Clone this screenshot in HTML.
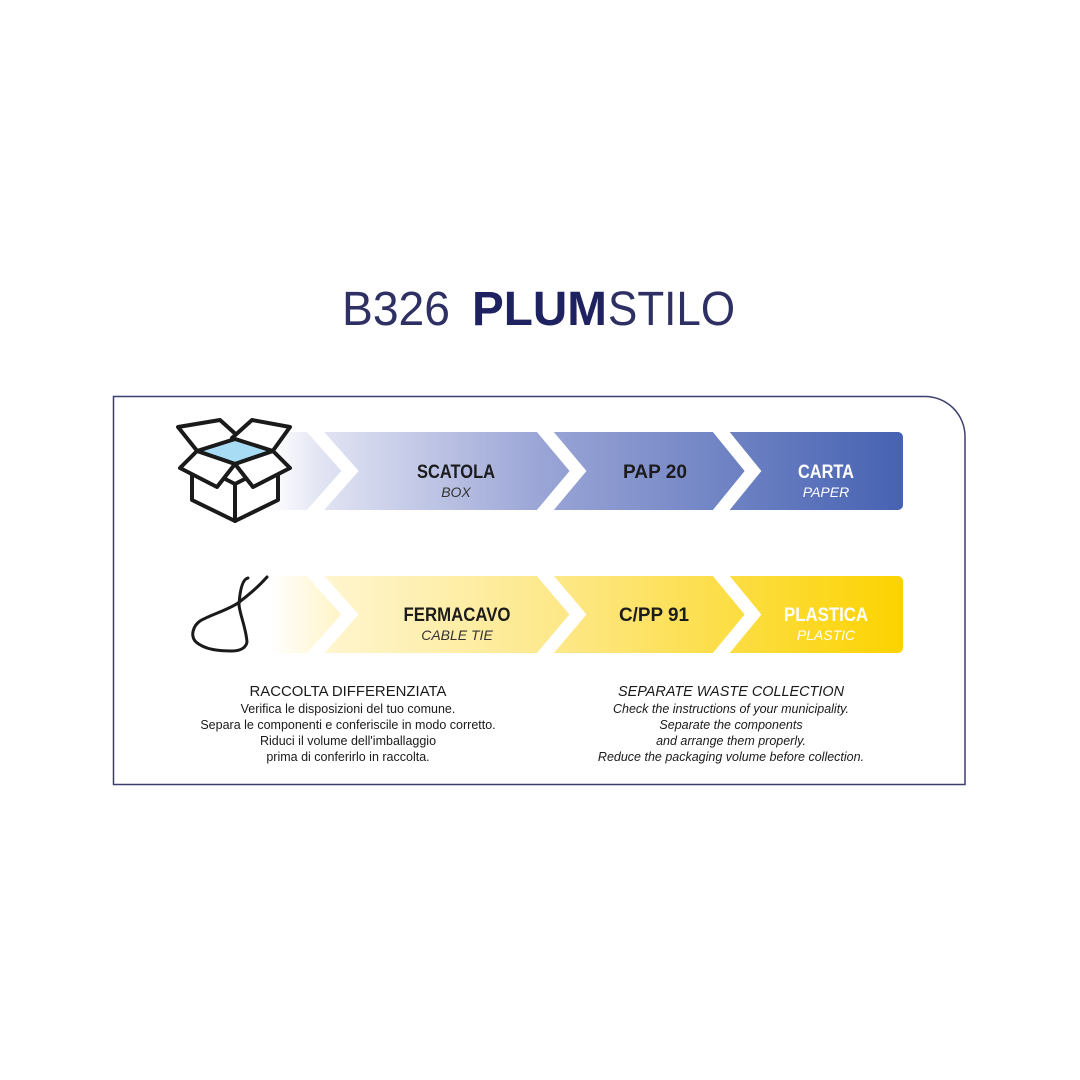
<!DOCTYPE html>
<html><head><meta charset="utf-8"><style>
html,body{margin:0;padding:0;background:#fff;}
svg{display:block}
</style></head><body>
<svg width="1080" height="1080" viewBox="0 0 1080 1080" xmlns="http://www.w3.org/2000/svg">
<defs>
<linearGradient id="gb" x1="270" x2="903" y1="0" y2="0" gradientUnits="userSpaceOnUse">
<stop offset="0" stop-color="#ffffff"/>
<stop offset="0.08" stop-color="#e2e4f3"/>
<stop offset="0.43" stop-color="#9aa5d6"/>
<stop offset="1" stop-color="#4662b2"/>
</linearGradient>
<linearGradient id="gy" x1="270" x2="903" y1="0" y2="0" gradientUnits="userSpaceOnUse">
<stop offset="0" stop-color="#ffffff"/>
<stop offset="0.1" stop-color="#fff5cc"/>
<stop offset="0.45" stop-color="#fde88a"/>
<stop offset="1" stop-color="#fcd300"/>
</linearGradient>
</defs>
<rect width="1080" height="1080" fill="#fff"/>
<text x="342" y="325" font-family="Liberation Sans, sans-serif" font-size="48" fill="#2e3063" textLength="108" lengthAdjust="spacingAndGlyphs">B326</text>
<text x="472" y="325" font-family="Liberation Sans, sans-serif" font-size="48" font-weight="bold" fill="#1f2260" textLength="135" lengthAdjust="spacingAndGlyphs">PLUM</text>
<text x="608" y="325" font-family="Liberation Sans, sans-serif" font-size="48" fill="#2e3063" textLength="127" lengthAdjust="spacingAndGlyphs">STILO</text>
<path d="M113.5 396.5 H925 A40 40 0 0 1 965 436.5 V784.5 H113.5 Z" fill="none" stroke="#3c3f6e" stroke-width="1.5"/>
<rect x="270" y="432" width="633" height="78" rx="5" fill="url(#gb)"/>
<rect x="270" y="576" width="633" height="77" rx="5" fill="url(#gy)"/>
<g fill="none" stroke="#fff" stroke-width="13" stroke-linejoin="miter">
<polyline points="312,428 350,471 312,514"/>
<polyline points="542,428 578,471 542,514"/>
<polyline points="718,428 753,471 718,514"/>
<polyline points="312,572 350,614.5 312,657"/>
<polyline points="542,572 578,614.5 542,657"/>
<polyline points="718,572 753,614.5 718,657"/>
</g>
<g font-family="Liberation Sans, sans-serif" text-anchor="middle">
<text x="456" y="478" font-size="19" font-weight="bold" fill="#1c1c1c" textLength="78" lengthAdjust="spacingAndGlyphs">SCATOLA</text>
<text x="456" y="497" font-size="14" font-style="italic" fill="#333">BOX</text>
<text x="655" y="478" font-size="19" font-weight="bold" fill="#1c1c1c" textLength="64" lengthAdjust="spacingAndGlyphs">PAP 20</text>
<text x="826" y="478" font-size="19" font-weight="bold" fill="#fff" textLength="56" lengthAdjust="spacingAndGlyphs">CARTA</text>
<text x="826" y="497" font-size="14" font-style="italic" fill="#fff">PAPER</text>
<text x="457" y="621" font-size="19" font-weight="bold" fill="#1c1c1c" textLength="107" lengthAdjust="spacingAndGlyphs">FERMACAVO</text>
<text x="457" y="640" font-size="14" font-style="italic" fill="#333">CABLE TIE</text>
<text x="654" y="621" font-size="19" font-weight="bold" fill="#1c1c1c" textLength="70" lengthAdjust="spacingAndGlyphs">C/PP 91</text>
<text x="826" y="621" font-size="19" font-weight="bold" fill="#fff" textLength="84" lengthAdjust="spacingAndGlyphs">PLASTICA</text>
<text x="826" y="640" font-size="14" font-style="italic" fill="#fff">PLASTIC</text>
</g>
<g stroke="#1a1a1a" stroke-width="4" stroke-linejoin="round" fill="#fff">
<polygon points="192,462 235,484 235,521 192,500"/>
<polygon points="278,462 235,484 235,521 278,500"/>
<polygon points="178,427 220,420 240,438 198,452"/>
<polygon points="290,427 252,420 232,438 272,452"/>
<polygon points="197,451 235,439 273,451 235,464" fill="#a8dcf5"/>
<polygon points="197,451 235,464 217,487 180,468"/>
<polygon points="273,451 235,464 253,487 290,468"/>
</g>
<path d="M248,578 C243,579 240,588 239,605 C240,615 246,628 247,642 C246,648 240,651 232,651 C220,651 205,650 196,642 C190,636 193,626 200,621 C210,615 228,610 238,603 C250,594 260,585 267,577" fill="none" stroke="#1a1a1a" stroke-width="3" stroke-linecap="round"/>
<g font-family="Liberation Sans, sans-serif" text-anchor="middle" fill="#1a1a1a">
<text x="348" y="696" font-size="15" textLength="197" lengthAdjust="spacingAndGlyphs">RACCOLTA DIFFERENZIATA</text>
<text x="348" y="713" font-size="12.5">Verifica le disposizioni del tuo comune.</text>
<text x="348" y="729" font-size="12.5">Separa le componenti e conferiscile in modo corretto.</text>
<text x="348" y="745" font-size="12.5">Riduci il volume dell'imballaggio</text>
<text x="348" y="761" font-size="12.5">prima di conferirlo in raccolta.</text>
<g font-style="italic">
<text x="731" y="696" font-size="15" textLength="226" lengthAdjust="spacingAndGlyphs">SEPARATE WASTE COLLECTION</text>
<text x="731" y="713" font-size="12.5">Check the instructions of your municipality.</text>
<text x="731" y="729" font-size="12.5">Separate the components</text>
<text x="731" y="745" font-size="12.5">and arrange them properly.</text>
<text x="731" y="761" font-size="12.5">Reduce the packaging volume before collection.</text>
</g>
</g>
</svg>
</body></html>
